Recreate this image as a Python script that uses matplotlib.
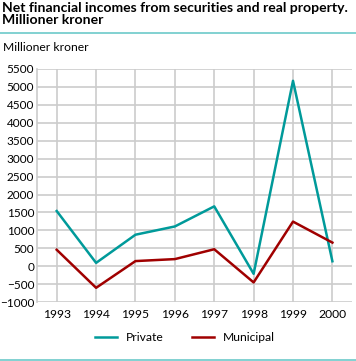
import numpy as np
import matplotlib
matplotlib.use('Agg')
import matplotlib.pyplot as plt

# data
years = [1993, 1994, 1995, 1996, 1997, 1998, 1999, 2000]
private = [1540, 95, 880, 1110, 1670, -210, 5170, 140]
municipal = [460, -600, 145, 200, 475, -450, 1245, 660]
yticks = list(range(-1000, 5501, 500))

plt.rcParams['font.family'] = ['Lato', 'DejaVu Sans']

fig = plt.figure(figsize=(3.56, 3.61), dpi=100)
ax = fig.add_axes([0.104, 0.163, 0.885, 0.646])

ax.plot(years, private, color='#009a9a', lw=1.8, label='Private')
ax.plot(years, municipal, color='#a00000', lw=1.8, label='Municipal')

ax.set_xlim(1992.5, 2000.5)
ax.set_ylim(-1000, 5500)
ax.set_xticks(years)
ax.set_yticks(yticks)
ax.tick_params(length=0)
ax.tick_params(axis='y', labelsize=8.5, pad=2)
ax.tick_params(axis='x', labelsize=8.7, pad=5)
ax.grid(True, color='#cccccc', lw=1.2)
ax.set_axisbelow(True)
for s in ['top', 'right', 'bottom']:
    ax.spines[s].set_visible(False)
ax.spines['left'].set_color('#cccccc')
ax.spines['left'].set_linewidth(1.2)

fig.text(0.006, 0.995, 'Net financial incomes from securities and real property.\nMillioner kroner',
         fontsize=10.1, fontweight='bold', va='top', ha='left', linespacing=1.05)
fig.add_artist(plt.Line2D([0, 1], [0.908, 0.908], color='#6cc9c9', lw=1.2))
fig.text(0.008, 0.868, 'Millioner kroner', fontsize=8.7, va='center', ha='left')

fig.legend(loc='center', bbox_to_anchor=(0.52, 0.064), ncol=2, frameon=False,
           fontsize=8.7, handlelength=1.8, columnspacing=2.3)
fig.add_artist(plt.Line2D([0, 1], [0.003, 0.003], color='#6cc9c9', lw=1.2))

fig.savefig('out.png', dpi=100)
